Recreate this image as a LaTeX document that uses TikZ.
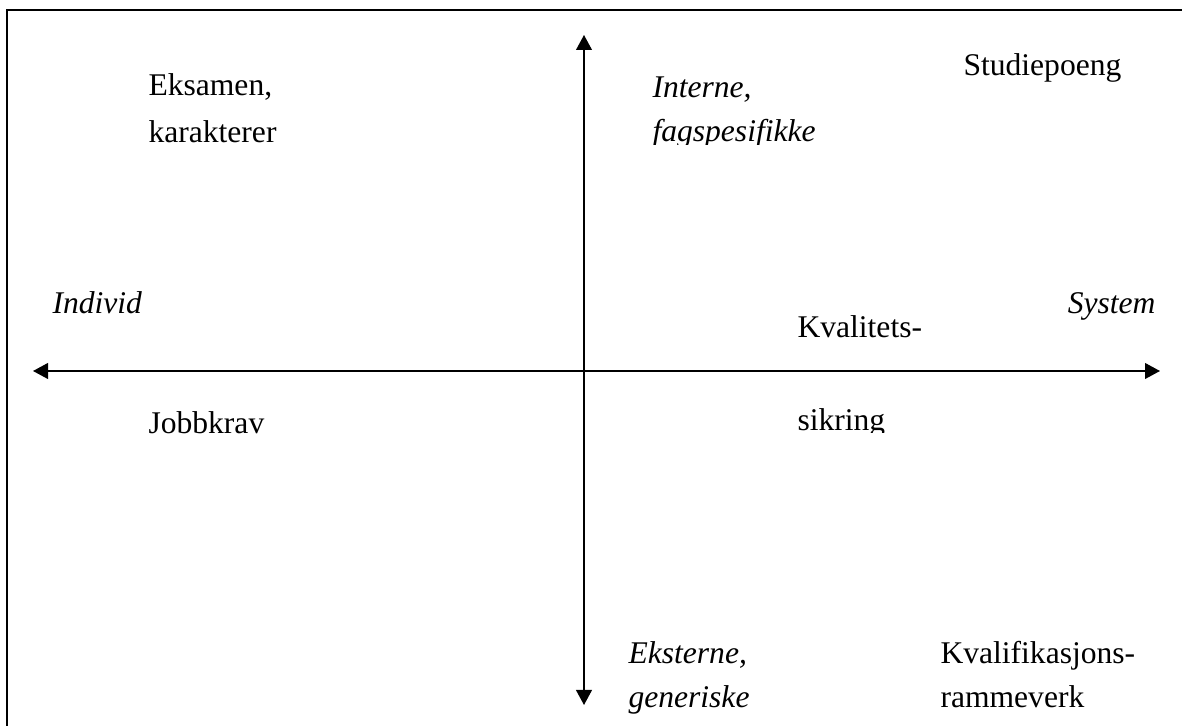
\documentclass[tikz,border=0pt]{standalone}
\usepackage{fontspec}
\setmainfont{Liberation Serif}
\usepackage{tikz}
\usetikzlibrary{arrows.meta, positioning}

\begin{document}
\begin{tikzpicture}[x=0.38pt, y=-0.38pt]
 	
 	\tikzstyle{frame}=[line width=0.95pt, black]
 	\tikzstyle{axis}=[{Triangle[length=5.7pt,width=6pt]}-{Triangle[length=5.7pt,width=6pt]}, line width=0.6pt, black]
 	\tikzstyle{term}=[anchor=base west, inner sep=0pt, font=\fontsize{12}{14}\selectfont]
 	\tikzstyle{dim}=[anchor=base west, inner sep=0pt, font=\fontsize{12}{14}\selectfont\itshape]
 	
 	\useasboundingbox (0,0) rectangle (1182,726);
 	\draw[frame] (1182,10) -- (7,10) -- (7,726);
 	
 	% axes
 	\coordinate (w) at (33,371);
 	\coordinate (e) at (1160,371);
 	\coordinate (n) at (584,35);
 	\coordinate (s) at (584,705);
 	\draw[axis] (w) -- (e);
 	\draw[axis] (s) -- (n);
 	
 	% ends of the axes
 	\node[dim] (individ) at (52,314) {Individ};
 	\node[dim, anchor=base east] (system) at (1156,314) {System};
 	\begin{scope}
 	\clip (640,60) rectangle (900,145);
 	\node[dim] (interne) at (652,98) {Interne,};
 	\node[dim] (fagspes) at (652,142) {fagspesifikke};
 	\end{scope}
 	\node[dim] (eksterne) at (628,664) {Eksterne,};
 	\node[dim] (generiske) at (628,708) {generiske};
 	
 	% quadrants
 	\node[term] (eksamen) at (148,96) {Eksamen,};
 	\node[term] (karakterer) at (148,143) {karakterer};
 	\node[term] (studiepoeng) at (963,76) {Studiepoeng};
 	\node[term] (kvalitets) at (797,338) {Kvalitets-};
 	\begin{scope}
 	\clip (780,395) rectangle (950,433);
 	\node[term] (sikring) at (797,431) {sikring};
 	\end{scope}
 	\begin{scope}
 	\clip (130,395) rectangle (300,435);
 	\node[term] (jobbkrav) at (148,434) {Jobbkrav};
 	\end{scope}
 	\node[term] (kvalifik) at (940,664) {Kvalifikasjons-};
 	\node[term] (rammeverk) at (940,708) {rammeverk};
 	
\end{tikzpicture}
\end{document}
